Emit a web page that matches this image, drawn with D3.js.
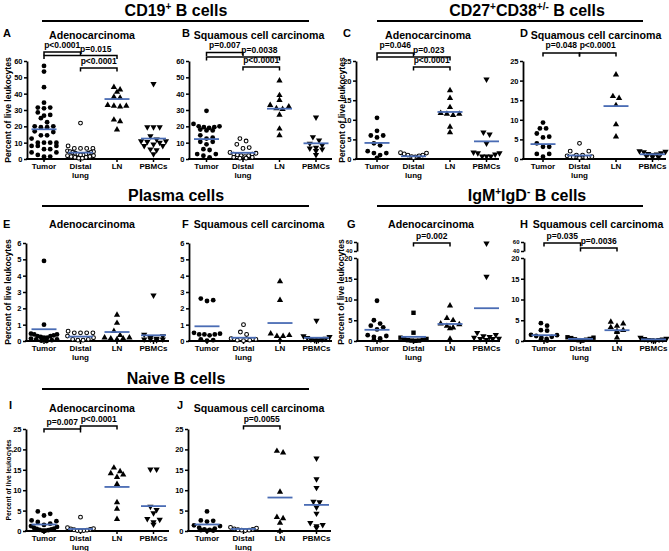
<!DOCTYPE html>
<html>
<head>
<meta charset="utf-8">
<script src="https://cdn.jsdelivr.net/npm/d3@7/dist/d3.min.js"></script>
<style>
html,body{margin:0;padding:0;background:#fff;}
svg{display:block;}
text{font-family:"Liberation Sans",Arial,Helvetica,sans-serif;fill:#000;}
</style>
</head>
<body>
<svg id="chart" width="669" height="551"></svg>
<script>
// ---------------- data ----------------
const categories = ["Tumor", "Distal lung", "LN", "PBMCs"];
const panelLetters = ["A","B","C","D","E","F","G","H","I","J"];
const panelTitles = ["Adenocarcinoma","Squamous cell carcinoma","Adenocarcinoma","Squamous cell carcinoma",
                     "Adenocarcinoma","Squamous cell carcinoma","Adenocarcinoma","Squamous cell carcinoma",
                     "Adenocarcinoma","Squamous cell carcinoma"];
const yAxisTitle = "Percent of live leukocytes";

const ticks60 = [0,10,20,30,40,50,60];
const ticks25 = [0,5,10,15,20,25];
const ticks6 = [0,1,2,3,4,5,6];
const ticksLow20 = [0,5,10,15,20];
const ticksHigh60 = [40,60];

// values per category: [Tumor, Distal lung, LN, PBMCs]
const valuesA = [
  [57,53.5,44,34.5,31.5,31.5,31,28.5,27,26.5,25,22.5,20,20,19.5,19.5,17,16.5,14.5,14.5,12.5,10,10,10,10,8,8,8,6,6,4,4,2.5,1.5,1.5,0.5],
  [22,8,6.5,6.5,6.5,6.5,5,4.5,4.5,4,4,3.5,3.5,3,3,2.5,2.5,2,2,1.5,1.5,1,1,0.5,0.5],
  [44,42.5,41,38,37.5,33,32.5,32.5,32,24,23,18],
  [46,19.5,19.5,19.5,14,12,11,11,10.5,10,9,8,8,6,5.5,3]
];
const meansA = [18.2,3.9,36.7,12.5];
const bracketsA = [[0,1,"p<0.0001"],[0,2,"p=0.015"],[1,2,"p<0.0001"]];

const valuesB = [
  [29.5,21.5,20,20,19.5,19.5,19,18,17.5,17.5,14.5,13,12.5,10.5,10.5,9,6,5.5,3,3,2,1],
  [12.5,11,9,7,6.5,4,3.5,3,3,2.5,2,2,1.5,1,1,0.5,0.5],
  [48,39,36,33,32,31,30.5,27,18.5,14.5],
  [25.5,13.5,11.5,9.5,8.5,7,6.5,6,5,2.5]
];
const meansB = [12.2,3.8,30.8,9.6];
const bracketsB = [[0,1,"p=0.007"],[0,2,"p=0.0038"],[1,2,"p<0.0001"]];

const valuesC = [
  [10.5,7.2,6,6,5.5,4,3.5,2,1.5,1.5,1,0.3],
  [1.6,1.5,1.3,1,1,0.8,0.6,0.5,0.3],
  [17.5,15.5,13.2,11.7,11.5,11.5,11.2,8.2,6.8],
  [20.3,6.8,6.3,4,1.7,1.5,1.5,1.2,0.7,0.7,0.7]
];
const meansC = [4.1,0.7,12,4.5];
const bracketsC = [[0,1,"p=0.046"],[0,2,"p=0.023"],[1,2,"p<0.0001"]];

const valuesD = [
  [9.3,7.8,7.8,6.5,5.7,5.5,4,3.1,3.1,1.3,1.3,0.6],
  [4,2,2,1,1,0.8,0.6,0.5,0.4,0.3],
  [21.5,16,15.5,13.7,8.8,5.7],
  [2,1.9,1.8,1.5,1.3,1.2,1,0.8,0.5,0.5]
];
const meansD = [3.8,0.9,13.5,1.2];
const bracketsD = [[0,1,"p=0.048"],[1,2,"p<0.0001"]];

const valuesE = [
  [4.9,1.0,0.45,0.4,0.4,0.35,0.3,0.3,0.25,0.2,0.2,0.15,0.1,0.1,0.05,0.02,0],
  [0.6,0.5,0.5,0.5,0.5,0.3,0.2,0.1,0.1,0.05,0.05],
  [1.6,1.1,0.6,0.35,0.2,0.2,0.15,0.15,0.1],
  [2.8,0.4,0.3,0.2,0.15,0.1,0.1,0.1,0.05]
];
const meansE = [0.72,0.27,0.55,0.35];
const bracketsE = [];

const valuesF = [
  [2.6,2.5,2.45,0.5,0.45,0.4,0.4,0.4,0.35,0.1,0.05,0.02],
  [1.0,0.55,0.4,0.15,0.1,0.05,0.05,0.02],
  [3.65,2.5,0.45,0.35,0.3,0.3,0.05],
  [1.25,0.3,0.25,0.2,0.15,0.1,0.1,0.05,0.05]
];
const meansF = [0.9,0.2,1.1,0.2];
const bracketsF = [];

const valuesG = [
  [9.7,5.0,4.2,3.7,3.3,2.8,1.4,1.2,1.0,0.6,0.3,0.2],
  [6.8,2.0,0.8,0.5,0.4,0.3,0.2,0.1,0.1,0.05],
  [8.5,5.5,5.0,4.2,4.0,3.6,3.2,3.0,0.5],
  [57,15.5,2.0,1.5,1.2,1.0,0.8,0.6,0.5,0.5,0.3]
];
const meansG = [2.7,1.0,4.1,7.9];
const bracketsG = [[1,2,"p=0.002"]];

const valuesH = [
  [4.3,3.7,2.6,2.5,1.5,1.4,1.2,1.0,0.8,0.5,0.3,0.1],
  [0.9,0.8,0.7,0.5,0.4,0.3,0.2,0.1],
  [4.6,4.2,3.6,3.3,2.6,2.4,2.1,0.8],
  [0.8,0.6,0.5,0.4,0.3,0.3,0.2,0.1]
];
const meansH = [1.4,0.5,2.6,0.4];
const bracketsH = [[0,1,"p=0.035"],[1,2,"p=0.0036"]];

const valuesI = [
  [4.8,4.2,3.8,2.6,2.4,2.2,1.8,1.5,1.2,1.0,0.8,0.6,0.5,0.4,0.3,0.2,0.1,0.1,0],
  [3.4,0.8,0.6,0.5,0.4,0.3,0.2,0.1,0.1,0.05],
  [15.5,14.6,14.1,13.8,13.2,11.5,7.0,5.4,2.9],
  [15.1,15.1,6.0,5.2,4.4,3.0,2.8,2.2,1.6]
];
const meansI = [1.6,0.5,10.8,6.1];
const bracketsI = [[0,1,"p=0.007"],[1,2,"p<0.0001"]];

const valuesJ = [
  [4.8,2.6,2.5,2.3,1.4,1.2,0.8,0.6,0.4,0.3,0.2,0.1,0.05],
  [0.9,0.7,0.5,0.4,0.3,0.2,0.2,0.1],
  [19.6,19.2,9.6,3.4,3.1,2.0,0],
  [17.8,12.7,10.6,7.2,7.1,5.8,4.3,2.0,1.5,1.2,0.8]
];
const meansJ = [1.6,0.5,8.2,6.4];
const bracketsJ = [[1,2,"p=0.0055"]];

// section headers: [text, isSuperscript]
const headerLeft = [[["CD19",0],["+",1],[" B cells",0]], [["Plasma cells",0]], [["Naive B cells",0]]];
const headerRight = [[["CD27",0],["+",1],["CD38",0],["+/-",1],[" B cells",0]], [["IgM",0],["+",1],["IgD",0],["-",1],[" B cells",0]], null];

// ---------------- layout (positions / styles) ----------------
const rows = [
  {top:61, bot:159, titleY:39, letterY:37, headY:16, lineY:21},
  {top:243, bot:341, titleY:228, letterY:228, headY:200.5, lineY:206},
  {top:429, bot:531, titleY:411.5, letterY:409, headY:384, lineY:389}
];
const panels = [
  {vals:valuesA, means:meansA, br:bracketsA, row:0, x0:27, c0:44, dom:[0,60], ticks:ticks60, tx:92, lx:3, ylab:11, ylabSize:8.6,
   brGeo:[[52,47.5,0.5],[55.5,52,1.42],[68,64,1.5]]},
  {vals:valuesB, means:meansB, br:bracketsB, row:0, x0:189, c0:206.5, dom:[0,60], ticks:ticks60, tx:259, lx:182,
   brGeo:[[52.5,47.5,0.5],[57,52.5,1.45],[67,63,1.5]]},
  {vals:valuesC, means:meansC, br:bracketsC, row:0, x0:356, c0:377, dom:[0,25], ticks:ticks25, tx:428, lx:343, ylab:345, ylabSize:8.6,
   brGeo:[[53,48,0.5],[57,52.5,1.42],[67,63,1.5]]},
  {vals:valuesD, means:meansD, br:bracketsD, row:0, x0:523, c0:543, dom:[0,25], ticks:ticks25, tx:596, lx:520,
   brGeo:[[53,48,0.5],[53,48,1.5]]},
  {vals:valuesE, means:meansE, br:bracketsE, row:1, x0:26, c0:44, dom:[0,6], ticks:ticks6, tx:92, lx:3, ylab:10.5, ylabSize:8.6, brGeo:[]},
  {vals:valuesF, means:meansF, br:bracketsF, row:1, x0:189, c0:207, dom:[0,6], ticks:ticks6, tx:259, lx:182, brGeo:[]},
  {vals:valuesG, means:meansG, br:bracketsG, row:1, x0:357, c0:377, broken:true, tx:431, lx:347, ylab:344, ylabSize:8.6, square:true,
   brGeo:[[243,238.5,1.5]]},
  {vals:valuesH, means:meansH, br:bracketsH, row:1, x0:524, c0:544, broken:true, tx:598, lx:520, square:true,
   brGeo:[[243,238.5,0.5],[248,243.5,1.5]]},
  {vals:valuesI, means:meansI, br:bracketsI, row:2, x0:26, c0:44, dom:[0,25], ticks:ticks25, tx:92, lx:9, ylab:10.5, ylabSize:6.6,
   brGeo:[[429,425,0.5],[426,421.5,1.5]]},
  {vals:valuesJ, means:meansJ, br:bracketsJ, row:2, x0:188, c0:207, dom:[0,25], ticks:ticks25, tx:259, lx:177,
   brGeo:[[426,421.5,1.5]]}
];
const STEP = 36.5;
const MEAN_COLOR = "#4a6cb4";
const tickFmt = d3.format("d");

const svg = d3.select("#chart");

// ---------------- headers ----------------
function header(parts, cx, row) {
  if (!parts) return;
  const t = svg.append("text").attr("x", cx).attr("y", row.headY)
    .attr("text-anchor","middle").attr("font-size",16).attr("font-weight","bold");
  let sup = false;
  parts.forEach(([s, isSup]) => {
    const ts = t.append("tspan").text(s);
    if (isSup && !sup) { ts.attr("dy",-6).attr("font-size",10); sup = true; }
    else if (isSup) { ts.attr("font-size",10); }
    else if (!isSup && sup) { ts.attr("dy",6); sup = false; }
  });
}
rows.forEach((row, i) => {
  header(headerLeft[i], 176, row);
  svg.append("line").attr("x1",42).attr("x2",309).attr("y1",row.lineY).attr("y2",row.lineY)
    .attr("stroke","#000").attr("stroke-width",1.8);
  if (headerRight[i]) {
    header(headerRight[i], 527, row);
    svg.append("line").attr("x1",377).attr("x2",643).attr("y1",row.lineY).attr("y2",row.lineY)
      .attr("stroke","#000").attr("stroke-width",1.8);
  }
});

// ---------------- column-scatter placement (Prism-like row binning) ----------------
function scatterRows(vals, y, binPx, gap, maxWidth) {
  const pts = vals.map(v => ({v, y: y(v)})).sort((a,b) => a.y - b.y);
  const bins = [];
  pts.forEach(p => {
    const last = bins[bins.length - 1];
    if (last && p.y - last.start < binPx) last.items.push(p);
    else bins.push({start: p.y, items: [p]});
  });
  bins.forEach(b => {
    const n = b.items.length;
    const sp = n > 1 ? Math.min(gap, maxWidth / (n - 1)) : 0;
    // interleave order so rows are not monotonic slants
    const order = [];
    for (let i = 0; i < n; i++) order.push(i % 2 === 0 ? i / 2 : n - 1 - (i - 1) / 2);
    b.items.forEach((p, i) => { p.x = (order[i] - (n - 1) / 2) * sp; });
  });
  return pts;
}

const triUp = d3.symbol().type(d3.symbolTriangle).size(17)();

// ---------------- panels ----------------
panels.forEach((p, pi) => {
  const row = rows[p.row];
  const g = svg.append("g");
  const x = d3.scalePoint().domain(categories).range([p.c0, p.c0 + STEP*3]);

  let y, yLo, yHi;
  if (p.broken) {
    yLo = d3.scaleLinear([0,20],[row.bot, row.bot - 83]);
    yHi = d3.scaleLinear([40,60],[row.top + 8, row.top - 1]);
    y = v => v > 30 ? yHi(v) : yLo(v);
  } else {
    y = d3.scaleLinear(p.dom, [row.bot, row.top]);
  }

  // y axis
  const styleAxis = (sel, fs) => {
    sel.select(".domain").attr("stroke-width",1.8);
    sel.selectAll(".tick line").attr("stroke-width",1.5);
    sel.selectAll(".tick text").attr("font-size",fs).attr("font-weight","bold")
      .attr("font-family","'Liberation Sans',Arial,sans-serif");
  };
  if (p.broken) {
    g.append("g").attr("transform",`translate(${p.x0},0)`)
      .call(d3.axisLeft(yLo).tickValues(ticksLow20).tickFormat(tickFmt).tickSize(3).tickSizeOuter(0).tickPadding(1.5))
      .call(s => styleAxis(s, 7.5));
    g.append("g").attr("transform",`translate(${p.x0},0)`)
      .call(d3.axisLeft(yHi).tickValues(ticksHigh60).tickFormat(tickFmt).tickSize(3).tickSizeOuter(0).tickPadding(1.5))
      .call(s => styleAxis(s, 6));
  } else {
    g.append("g").attr("transform",`translate(${p.x0},0)`)
      .call(d3.axisLeft(y).tickValues(p.ticks).tickFormat(tickFmt).tickSize(3).tickSizeOuter(0).tickPadding(1.5))
      .call(s => styleAxis(s, 7.5));
  }

  // x axis
  g.append("line").attr("x1",p.x0 - 0.9).attr("x2",p.x0 + 143).attr("y1",row.bot).attr("y2",row.bot)
    .attr("stroke","#000").attr("stroke-width",1.8);
  categories.forEach(c => {
    g.append("line").attr("x1",x(c)).attr("x2",x(c)).attr("y1",row.bot).attr("y2",row.bot + 3)
      .attr("stroke","#000").attr("stroke-width",1.5);
    const words = c === "Distal lung" ? ["Distal","lung"] : [c];
    words.forEach((w, wi) => {
      g.append("text").attr("x",x(c)).attr("y",row.bot + 10 + wi*8.5).attr("text-anchor","middle")
        .attr("font-size",8).attr("font-weight","bold").text(w);
    });
  });

  // y axis title
  if (p.ylab !== undefined) {
    const cy = (row.top + row.bot) / 2;
    g.append("text").attr("transform",`translate(${p.ylab},${cy}) rotate(-90)`)
      .attr("text-anchor","middle").attr("font-size",p.ylabSize).attr("font-weight","bold").text(yAxisTitle);
  }

  // title & letter
  g.append("text").attr("x",p.tx).attr("y",row.titleY).attr("text-anchor","middle")
    .attr("font-size",10.6).attr("font-weight","bold").text(panelTitles[pi]);
  g.append("text").attr("x",p.lx).attr("y",row.letterY)
    .attr("font-size",11).attr("font-weight","bold").text(panelLetters[pi]);

  // points
  p.vals.forEach((vals, ci) => {
    const cx = x(categories[ci]);
    const pts = scatterRows(vals, y, 4.5, 6.2, 26);
    pts.forEach(pt => {
      const px = cx + pt.x, py = pt.y;
      if (ci === 0) {
        g.append("circle").attr("cx",px).attr("cy",py).attr("r",2.4).attr("fill","#000");
      } else if (ci === 1) {
        if (p.square) {
          g.append("rect").attr("x",px-2.2).attr("y",py-2.2).attr("width",4.4).attr("height",4.4).attr("fill","#000");
        } else {
          g.append("circle").attr("cx",px).attr("cy",py).attr("r",1.9).attr("fill","#fff")
            .attr("stroke","#000").attr("stroke-width",1.05);
        }
      } else if (ci === 2) {
        g.append("path").attr("d",triUp).attr("transform",`translate(${px},${py})`).attr("fill","#000");
      } else {
        g.append("path").attr("d",triUp).attr("transform",`translate(${px},${py}) rotate(180)`).attr("fill","#000");
      }
    });
  });

  // mean lines
  p.means.forEach((m, ci) => {
    const cx = x(categories[ci]);
    g.append("line").attr("x1",cx - 12.5).attr("x2",cx + 12.5).attr("y1",y(m)).attr("y2",y(m))
      .attr("stroke",MEAN_COLOR).attr("stroke-width",1.8);
  });

  // significance brackets
  p.br.forEach((b, bi) => {
    const [a, c, label] = b;
    const [ly, ty, tc] = p.brGeo[bi];
    const xa = x(categories[a]), xb = x(categories[c]);
    g.append("path").attr("d",`M${xa},${ly+3.5}V${ly}H${xb}V${ly+3.5}`)
      .attr("fill","none").attr("stroke","#000").attr("stroke-width",1.5);
    const tx = p.c0 + STEP * tc;
    g.append("text").attr("x",tx).attr("y",ty).attr("text-anchor","middle")
      .attr("font-size",8.5).attr("font-weight","bold").text(label);
  });
});
</script>
</body>
</html>
